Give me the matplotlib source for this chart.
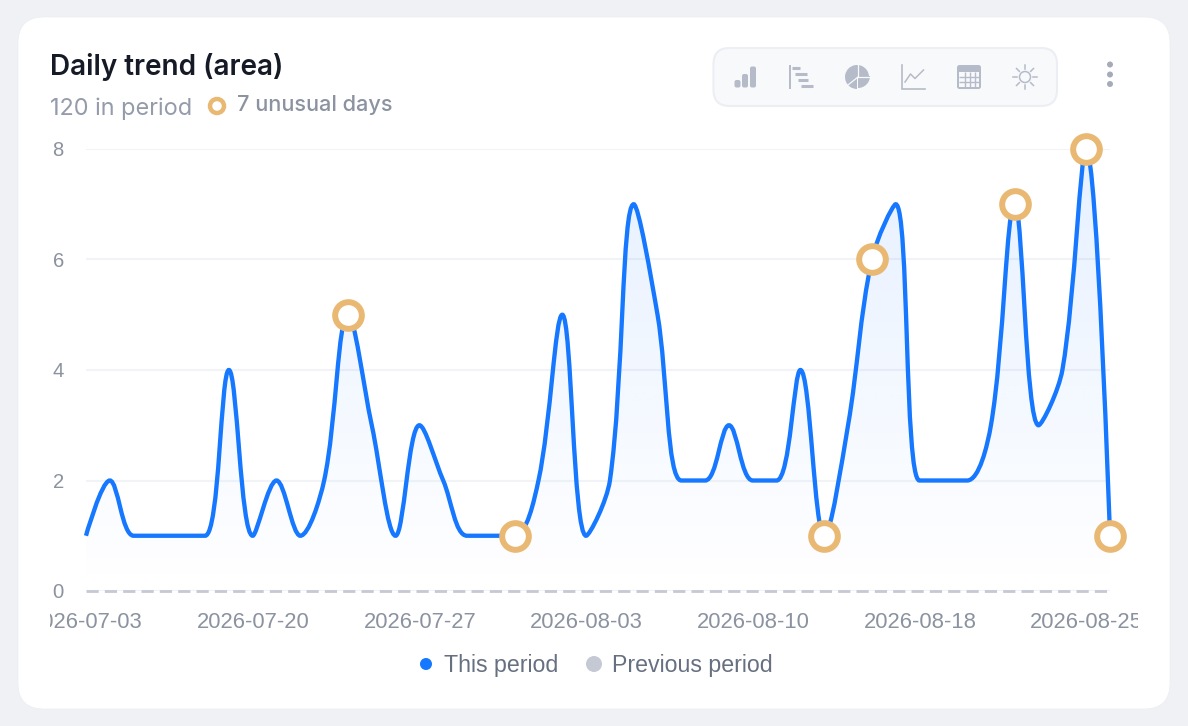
import matplotlib
matplotlib.use('Agg')
import matplotlib.pyplot as plt
import numpy as np
from matplotlib.patches import Circle, FancyBboxPatch, PathPatch, Rectangle, Wedge
from matplotlib.path import Path

W, H = 1188, 726

values = [1, 2, 1, 1, 1, 1, 4, 1, 2, 1, 2, 5, 3, 1, 3, 2, 1, 1, 1, 2, 5, 1,
          2, 7, 5, 2, 2, 3, 2, 2, 4, 1, 3, 6, 7, 2, 2, 2, 3, 7, 3, 4, 8, 1]
previous = [0] * 44
unusual = [11, 18, 31, 33, 39, 42, 43]
tick_idx = [0, 7, 14, 21, 28, 35, 42]
tick_labels = ['2026-07-03', '2026-07-20', '2026-07-27', '2026-08-03',
               '2026-08-10', '2026-08-18', '2026-08-25']
y_ticks = [0, 2, 4, 6, 8]

BLUE = '#1677ff'
ORANGE = '#e9b872'
GREY_TEXT = '#8b92a0'
ICON = '#b5bbc8'

INTER = ['Inter', 'DejaVu Sans']
HELV = ['Liberation Sans', 'DejaVu Sans']


def smooth_path(xs, ys, smooth=0.35):
    # same kind of bezier smoothing the line has in the picture: control points
    # come from the neighbours and get clamped so peaks don't overshoot
    n = len(xs)
    verts = [(xs[0], ys[0])]
    codes = [Path.MOVETO]
    cp0 = (xs[0], ys[0])
    for k in range(n - 1):
        if k + 2 < n:
            x, y = xs[k + 1], ys[k + 1]
            px, py = xs[k], ys[k]
            nx, ny = xs[k + 2], ys[k + 2]
            len_prev = np.hypot(x - px, y - py)
            len_next = np.hypot(nx - x, ny - y)
            ratio = len_next / (len_next + len_prev)
            ncx = x + (nx - px) * smooth * ratio
            ncy = y + (ny - py) * smooth * ratio
            ncx = np.clip(ncx, min(nx, x), max(nx, x))
            ncy = np.clip(ncy, min(ny, y), max(ny, y))
            vx, vy = ncx - x, ncy - y
            c1x = x - vx * len_prev / len_next
            c1y = y - vy * len_prev / len_next
            c1x = np.clip(c1x, min(px, x), max(px, x))
            c1y = np.clip(c1y, min(py, y), max(py, y))
            vx, vy = x - c1x, y - c1y
            ncx = x + vx * len_next / len_prev
            ncy = y + vy * len_next / len_prev
            c1 = (c1x, c1y)
            next_cp0 = (ncx, ncy)
        else:
            c1 = (xs[k + 1], ys[k + 1])
            next_cp0 = c1
        verts += [cp0, c1, (xs[k + 1], ys[k + 1])]
        codes += [Path.CURVE4] * 3
        cp0 = next_cp0
    return verts, codes


fig = plt.figure(figsize=(W / 100, H / 100), dpi=100, facecolor='#eff1f5')

# overlay in pixel coords for the card and the toolbar
bg = fig.add_axes([0, 0, 1, 1], zorder=0)
bg.set_xlim(0, W)
bg.set_ylim(H, 0)
bg.axis('off')

bg.add_patch(FancyBboxPatch((18, 17), 1152, 692, boxstyle='round,pad=0,rounding_size=26',
                            fc='white', ec='#eceef2', lw=0.5))

bg.text(50, 67, 'Daily trend (area)', family=INTER, fontsize=20.1, fontweight='semibold',
        color='#151a26', va='center', ha='left')
bg.text(50, 109, '120 in period', family=INTER, fontsize=16.9, color='#949baa', va='center', ha='left')
bg.add_patch(Circle((217, 106), 7, fc='white', ec=ORANGE, lw=3.2))
bg.text(237, 105, '7 unusual days', family=INTER, fontsize=15.6, fontweight='medium',
        color=GREY_TEXT, va='center', ha='left')

# toolbar
bg.add_patch(FancyBboxPatch((713.5, 48), 343.5, 58, boxstyle='round,pad=0,rounding_size=16',
                            fc='#f8f9fb', ec='#eceef3', lw=1.5))
# bars
for x0, top in [(734.5, 80), (742, 74), (750, 66.5)]:
    bg.add_patch(FancyBboxPatch((x0, top), 6, 87.5 - top, boxstyle='round,pad=0,rounding_size=2',
                                fc=ICON, ec='none'))
# gantt
bg.plot([790, 790], [65, 89], color=ICON, lw=1.4, solid_capstyle='butt')
for x0, x1, yy in [(792, 799.5, 67.7), (795, 807, 73.7), (798, 808, 79.5), (801, 813, 85.7)]:
    bg.plot([x0, x1], [yy, yy], color=ICON, lw=2.2, solid_capstyle='butt')
# pie
bg.add_patch(Wedge((857, 77), 12, 90, 360, fc=ICON, ec='none'))
bg.add_patch(Wedge((858, 76), 12, 0, 90, fc=ICON, ec='none'))
bg.plot([858, 858], [64, 77], color='#f8f9fb', lw=0.9)
bg.plot([858, 870], [77, 77], color='#f8f9fb', lw=0.9)
bg.plot([858, 848], [77, 85], color='#f8f9fb', lw=0.9)
# line icon
bg.plot([901.5, 901.5, 925], [65, 88.5, 88.5], color=ICON, lw=1.2, solid_joinstyle='miter')
bg.plot([905, 910.5, 915, 923.5], [82, 74, 78.5, 70], color=ICON, lw=1.1)
# table
bg.add_patch(FancyBboxPatch((957, 65), 24, 24, boxstyle='round,pad=0,rounding_size=2.5', fc=ICON, ec='none'))
bg.add_patch(Rectangle((959, 72), 20, 15, fc='#f8f9fb', ec='none'))
for xx in [964.5, 969.5, 974.5]:
    bg.plot([xx, xx], [71.5, 87.5], color=ICON, lw=1.0, solid_capstyle='butt')
for yy in [76.5, 81.5]:
    bg.plot([958.5, 979.5], [yy, yy], color=ICON, lw=1.0, solid_capstyle='butt')
# sun
bg.add_patch(Circle((1025, 77), 5.5, fc='none', ec=ICON, lw=1.1))
for a in np.arange(0, 360, 45):
    c, s = np.cos(np.radians(a)), np.sin(np.radians(a))
    bg.plot([1025 + 8 * c, 1025 + 12 * c], [77 + 8 * s, 77 + 12 * s], color=ICON, lw=1.1)
# more menu
for yy in [64.5, 74.5, 84]:
    bg.add_patch(Circle((1110, yy), 3, fc='#a5abb8', ec='none'))

# legend
bg.add_patch(Circle((426, 664), 6, fc=BLUE, ec='none'))
bg.text(444.5, 665.5, 'This period', family=HELV, fontsize=16.7, color='#667080', va='center', ha='left')
bg.add_patch(Circle((594, 664), 8, fc='#c5c9d3', ec='none'))
bg.text(612.5, 665.5, 'Previous period', family=HELV, fontsize=16.7, color='#667080', va='center', ha='left')

# the chart
left, right, top, bottom = 86, 1110, 149, 591
ax = fig.add_axes([left / W, 1 - bottom / H, (right - left) / W, (bottom - top) / H], zorder=1)
ax.patch.set_alpha(0)
for s in ax.spines.values():
    s.set_visible(False)
xs = np.arange(len(values), dtype=float)
ax.set_xlim(0, len(values) - 1)
ax.set_ylim(0, 8)
ax.set_yticks(y_ticks)
ax.set_xticks([])
ax.tick_params(axis='y', length=0, pad=16, labelsize=14.6, labelcolor=GREY_TEXT)
for t in ax.get_yticklabels():
    t.set_family(HELV)
ax.grid(axis='y', color='#f2f3f7', lw=1.5)
ax.set_axisbelow(True)

# smoothing is done on pixel distances
sx = (right - left) / (len(values) - 1)
sy = (bottom - top) / 8
vp, cp = smooth_path(xs * sx, np.array(values, dtype=float) * sy)
line_verts = [(a / sx, b / sy) for a, b in vp]

area = Path(line_verts + [(xs[-1], 0), (0, 0), (0, values[0]), (0, values[0])],
            cp + [Path.LINETO, Path.LINETO, Path.LINETO, Path.CLOSEPOLY])
grad = np.zeros((256, 1, 4))
grad[..., :3] = matplotlib.colors.to_rgb(BLUE)
grad[..., 3] = np.linspace(0.11, 0.0, 256)[:, None]
im = ax.imshow(grad, extent=(0, xs[-1], 0, 8), origin='upper', aspect='auto', zorder=1.5,
               interpolation='bilinear')
im.set_clip_path(PathPatch(area, transform=ax.transData))
ax.set_xlim(0, len(values) - 1)
ax.set_ylim(0, 8)

ax.add_patch(PathPatch(Path(line_verts, cp), fc='none', ec=BLUE, lw=3.1, zorder=3,
                       capstyle='butt', clip_on=False))
ax.plot(xs, previous, color='#c5c9d3', lw=2.0, dashes=(4.4, 2.2), zorder=2.5,
        clip_on=False, dash_capstyle='butt')
ax.plot(xs[unusual], np.array(values)[unusual], ls='none', marker='o', ms=19.2,
        mfc='white', mec=ORANGE, mew=4.3, zorder=4, clip_on=False)

# the category labels get cut at the ends of the chart box
clip = Rectangle((50 / W, 1 - 645 / H), 1088 / W, 45 / H, transform=fig.transFigure)
for i, lab in zip(tick_idx, tick_labels):
    t = ax.annotate(lab, (xs[i] + 0.02, 0), xytext=(0, -32 * 0.72), textcoords='offset points',
                    ha='center', va='center', family=HELV, fontsize=15.85, color=GREY_TEXT,
                    annotation_clip=False)
    t.set_clip_path(clip)
    t.set_clip_on(True)

fig.savefig('out.png', dpi=100, facecolor=fig.get_facecolor())
